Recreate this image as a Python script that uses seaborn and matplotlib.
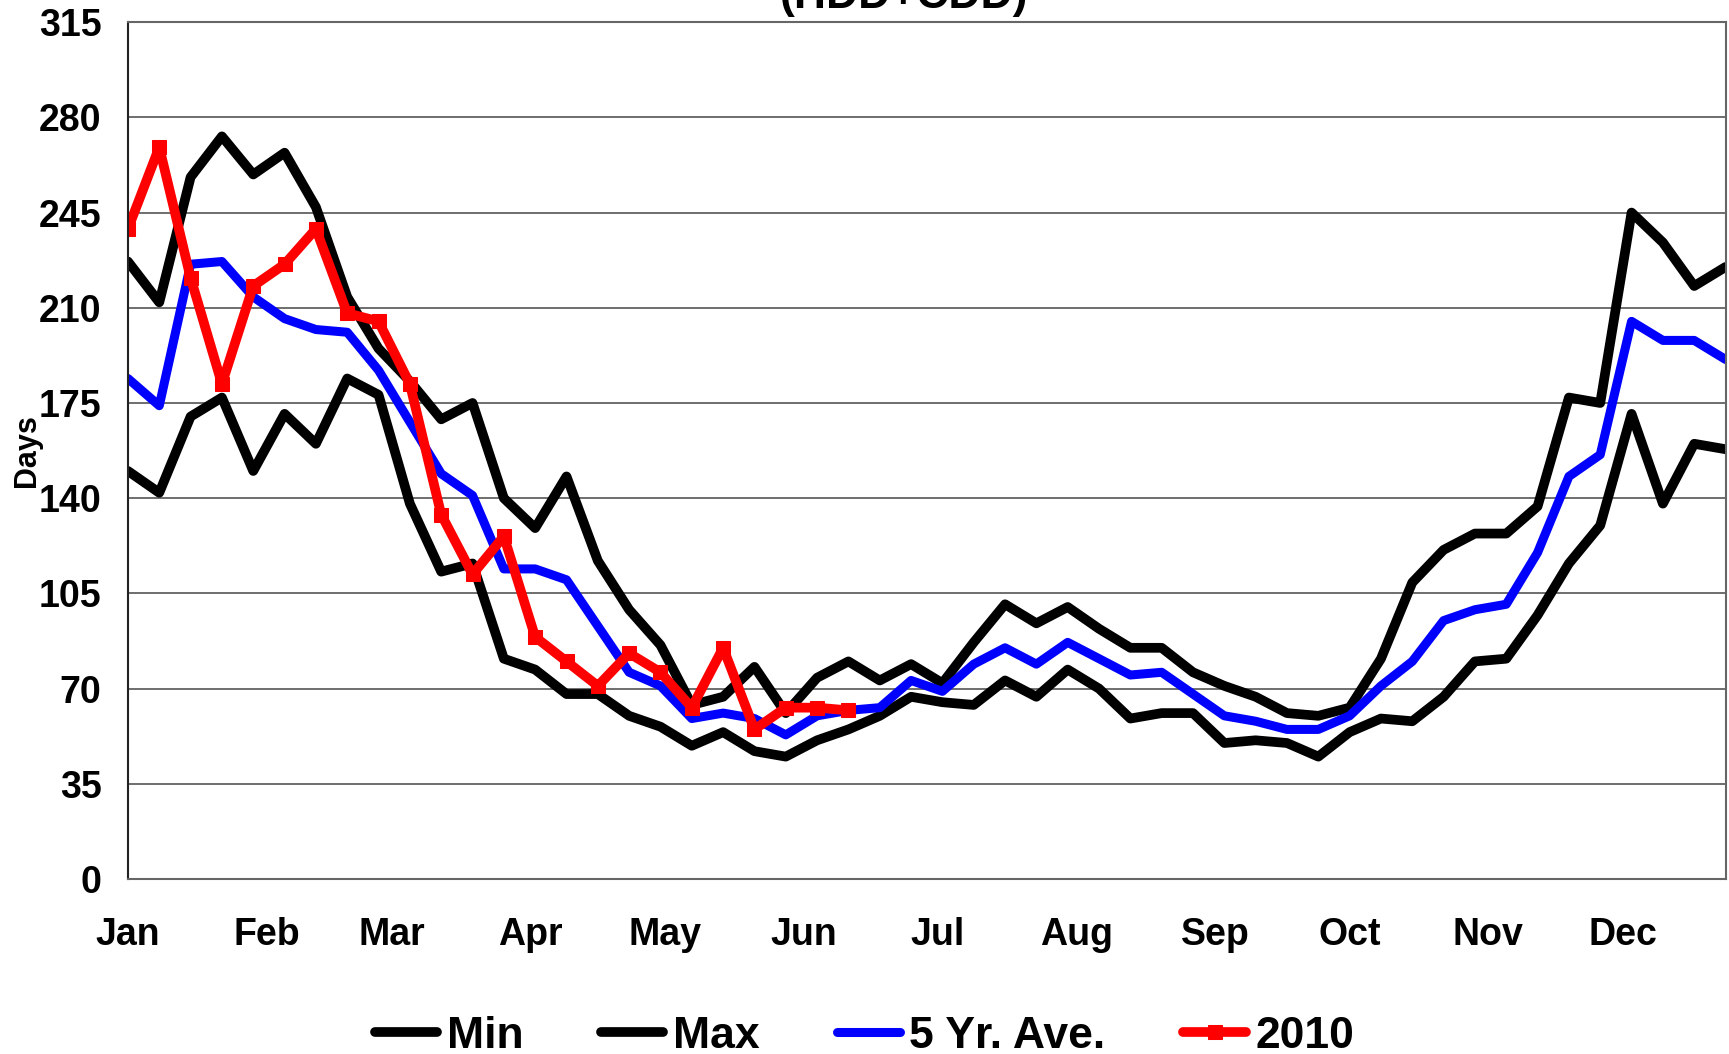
import pandas as pd
import matplotlib
matplotlib.use("Agg")
import matplotlib.pyplot as plt
import matplotlib.dates as mdates
import seaborn as sns

# weekly values (Days)
weeks = pd.date_range("2010-01-01", periods=52, freq="7D")

max_days = [227, 212, 258, 273, 259, 267, 247, 214, 195, 183, 169, 175, 140,
            129, 148, 117, 99, 86, 64, 67, 78, 61, 74, 80, 73, 79, 72, 87,
            101, 94, 100, 92, 85, 85, 76, 71, 67, 61, 60, 63, 81, 109, 121,
            127, 127, 137, 177, 175, 245, 234, 218, 225]
min_days = [150, 142, 170, 177, 150, 171, 160, 184, 178, 138, 113, 116, 81,
            77, 68, 68, 60, 56, 49, 54, 47, 45, 51, 55, 60, 67, 65, 64, 73,
            67, 77, 70, 59, 61, 61, 50, 51, 50, 45, 54, 59, 58, 67, 80, 81,
            97, 116, 130, 171, 138, 160, 158]
ave_days = [184, 174, 226, 227, 214, 206, 202, 201, 187, 168, 149, 141, 114,
            114, 110, 93, 76, 71, 59, 61, 59, 53, 60, 62, 63, 73, 69, 79, 85,
            79, 87, 81, 75, 76, 68, 60, 58, 55, 55, 60, 71, 80, 95, 99, 101,
            120, 148, 156, 205, 198, 198, 191]
days_2010 = [239, 269, 221, 182, 218, 226, 239, 208, 205, 182, 134, 112, 126,
             89, 80, 71, 83, 76, 63, 85, 55, 63, 63, 62]

y_ticks = [0, 35, 70, 105, 140, 175, 210, 245, 280, 315]

sns.set_theme(style="white")
plt.rcParams["font.family"] = ["Liberation Sans Narrow", "Liberation Sans", "DejaVu Sans"]
plt.rcParams["font.weight"] = "bold"
plt.rcParams["text.color"] = "black"
plt.rcParams["axes.labelcolor"] = "black"
plt.rcParams["xtick.color"] = "black"
plt.rcParams["ytick.color"] = "black"

fig, ax = plt.subplots(figsize=(17.29, 10.54), dpi=100)
fig.subplots_adjust(left=0.074, right=0.998, top=0.979, bottom=0.166)

sns.lineplot(x=weeks, y=min_days, ax=ax, color="black", linewidth=7, label="Min")
sns.lineplot(x=weeks, y=max_days, ax=ax, color="black", linewidth=7, label="Max")
sns.lineplot(x=weeks, y=ave_days, ax=ax, color="#0000ff", linewidth=6.5, label="5 Yr. Ave.")
sns.lineplot(x=weeks[:len(days_2010)], y=days_2010, ax=ax, color="#ff0000",
             linewidth=7, marker="s", markersize=10, markeredgecolor="#ff0000",
             label="2010")

ax.set_ylim(0, 315)
ax.set_yticks(y_ticks)
ax.set_xlim(pd.Timestamp("2010-01-01"), pd.Timestamp("2010-12-24"))
ax.xaxis.set_major_locator(mdates.MonthLocator())
ax.xaxis.set_major_formatter(mdates.DateFormatter("%b"))

ax.grid(axis="y", color="#555555", lw=1.2)
ax.grid(axis="x", visible=False)
for side in ["top", "right", "bottom"]:
    ax.spines[side].set_color("#666666")
    ax.spines[side].set_linewidth(1.5)
ax.spines["left"].set_color("#222222")
ax.spines["left"].set_linewidth(1.5)

ax.tick_params(axis="y", direction="out", length=7, width=1.2, color="#444444",
               pad=12, labelsize=27)
ax.tick_params(axis="x", direction="out", length=8, width=1.2, color="#444444",
               pad=19, labelsize=27)
for lbl in ax.get_xticklabels() + ax.get_yticklabels():
    lbl.set_fontweight("bold")

ax.set_xlabel("")
ax.set_ylabel("Days", fontsize=22, fontweight="bold")
ax.yaxis.set_label_coords(-0.054, 0.5)

# title sits mostly above the canvas in the original
fig.text(0.523, 0.9925, "(HDD+CDD)", ha="center", va="baseline",
         fontsize=32, fontweight="bold")

ax.get_legend().remove()
handles, labels = ax.get_legend_handles_labels()
fig.legend(handles, labels, loc="center", bbox_to_anchor=(0.5, 0.017),
           ncol=4, frameon=False, handlelength=1.4,
           handletextpad=0.22, columnspacing=1.75,
           prop={"weight": "bold", "size": 32})

fig.savefig("out.png", dpi=100)
